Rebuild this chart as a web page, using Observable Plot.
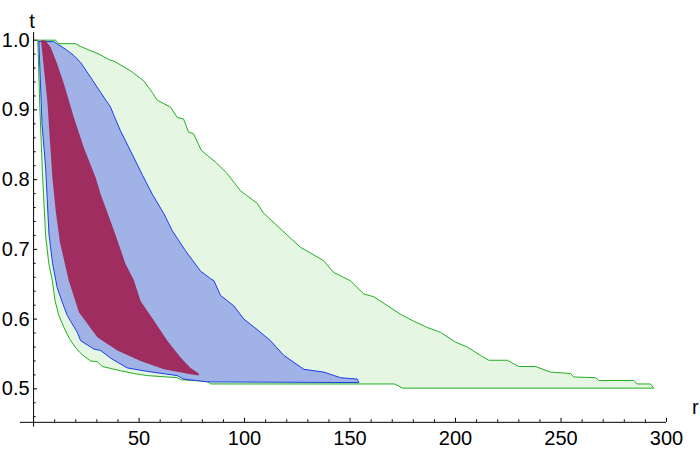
<!DOCTYPE html>
<html><head><meta charset="utf-8">
<style>html,body{margin:0;padding:0;background:#fff;} svg{display:block}</style>
<script src="https://cdn.jsdelivr.net/npm/d3@7"></script>
<script src="https://cdn.jsdelivr.net/npm/@observablehq/plot@0.6"></script>
</head><body><div id="chart"></div>
<script>
// ---- data: region boundaries as [r, t] pairs ----
const greenUpper = [[2.0,1.0],[10.4,1.0],[12.0,0.995],[19.9,0.995],[22.3,0.991],[26.2,0.986],[31.0,0.980],[36.5,0.971],[38.1,0.970],[46.0,0.956],[52.1,0.942],[56.3,0.925],[58.6,0.914],[64.9,0.904],[68.1,0.889],[71.1,0.887],[73.5,0.868],[75.8,0.866],[79.5,0.842],[86.3,0.825],[91.4,0.810],[98.1,0.784],[106.0,0.766],[109.0,0.752],[117.9,0.727],[126.5,0.703],[137.4,0.684],[142.2,0.667],[150.2,0.655],[156.5,0.636],[161.3,0.632],[173.9,0.607],[180.2,0.597],[186.6,0.588],[192.9,0.581],[200.0,0.567],[205.5,0.560],[211.8,0.548],[215.8,0.541],[224.5,0.541],[230.0,0.532],[237.9,0.532],[245.0,0.524],[254.5,0.522],[256.1,0.517],[266.4,0.516],[267.9,0.512],[284.5,0.512],[286.1,0.507],[292.4,0.507],[294.0,0.501]];
const greenLower = [[2.0,1.0],[3.0,0.90],[4.2,0.81],[5.7,0.72],[7.2,0.68],[8.9,0.655],[10.2,0.626],[12.0,0.605],[14.4,0.588],[17.0,0.572],[19.9,0.559],[23.0,0.549],[27.0,0.540],[30.2,0.539],[32.6,0.532],[41.2,0.526],[47.5,0.522],[53.9,0.519],[68.1,0.516],[69.7,0.513],[82.0,0.511],[84.0,0.507],[171.0,0.507],[175.0,0.501],[294.0,0.501]];
const blueUpper = [[2.5,0.998],[9.5,0.998],[15.2,0.987],[19.1,0.978],[22.3,0.968],[27.0,0.947],[31.8,0.925],[36.5,0.904],[38.1,0.892],[41.2,0.870],[45.5,0.844],[51.7,0.806],[56.3,0.779],[61.8,0.751],[65.7,0.727],[72.0,0.698],[79.1,0.669],[83.9,0.658],[85.5,0.655],[88.6,0.634],[94.9,0.619],[99.7,0.600],[106.8,0.583],[112.3,0.569],[118.6,0.548],[128.1,0.528],[137.6,0.524],[145.5,0.516],[153.4,0.514],[154.2,0.509]];
const blueLower = [[2.5,0.998],[4.0,0.88],[5.7,0.818],[7.3,0.722],[9.0,0.68],[11.2,0.645],[13.5,0.625],[16.0,0.605],[20.7,0.581],[22.3,0.569],[28.6,0.557],[31.8,0.555],[36.5,0.544],[44.4,0.530],[53.9,0.525],[68.1,0.519],[71.2,0.514],[82.3,0.510],[154.2,0.509]];
const redUpper = [[3.5,1.0],[5.5,1.0],[8.1,0.990],[11.2,0.966],[14.4,0.937],[19.1,0.889],[23.8,0.846],[29.4,0.803],[31.8,0.779],[38.1,0.727],[43.6,0.679],[47.5,0.656],[50.7,0.626],[57.0,0.598],[63.4,0.569],[69.7,0.545],[74.4,0.530],[78.3,0.522]];
const redLower = [[3.5,1.0],[6.5,0.913],[8.9,0.803],[10.5,0.755],[12.5,0.710],[16.7,0.655],[21.5,0.610],[30.2,0.574],[39.7,0.555],[50.7,0.540],[61.8,0.528],[74.4,0.521],[78.3,0.519]];

// ---- axes ----
const xTicks = [50, 100, 150, 200, 250, 300];
const xTickLabels = ["50", "100", "150", "200", "250", "300"];
const yTicks = [0.5, 0.6, 0.7, 0.8, 0.9, 1.0];
const yTickLabels = ["0.5", "0.6", "0.7", "0.8", "0.9", "1.0"];
const xMinorTicks = d3.range(10, 301, 10).filter(v => v % 50 !== 0);
const yMinorTicks = d3.range(46, 101, 2).map(v => v / 100).filter(v => Math.round(v * 100) % 10 !== 0);
const xAxisName = "r", yAxisName = "t";
const xDomain = [-6.2, 300];
const yDomain = [0.445, 1.011];
const xAxisAt = 0.452; // t where the horizontal axis sits
const yAxisAt = 0;     // r where the vertical axis sits

const colors = {
  greenFill: "#e5f6e3", greenStroke: "#22b022",
  blueFill: "#a0b2e6", blueStroke: "#1e3ceb",
  redFill: "#a02d60"
};
const font = {fontFamily: "'Liberation Sans', Arial, sans-serif", fontSize: 20, fill: "#000"};

const closed = (upper, lower) => upper.concat(lower.slice().reverse()).map(([r, t]) => ({r, t}));

const chart = Plot.plot({
  width: 700, height: 451,
  marginLeft: 20, marginRight: 34, marginTop: 32, marginBottom: 24.3,
  x: {domain: xDomain, axis: null},
  y: {domain: yDomain, axis: null},
  style: {fontFamily: font.fontFamily, fontSize: "20px", background: "#fff", overflow: "visible"},
  marks: [
    Plot.line(closed(greenUpper, greenLower), {x: "r", y: "t", curve: "linear-closed", fill: colors.greenFill, stroke: colors.greenStroke, strokeWidth: 1}),
    Plot.line(closed(blueUpper, blueLower), {x: "r", y: "t", curve: "linear-closed", fill: colors.blueFill, stroke: colors.blueStroke, strokeWidth: 1}),
    Plot.line(closed(redUpper, redLower), {x: "r", y: "t", curve: "linear-closed", fill: colors.redFill, stroke: "none"}),
    // axis lines
    Plot.ruleY([xAxisAt], {x1: xDomain[0], x2: xDomain[1], stroke: "#000", strokeWidth: 1}),
    Plot.ruleX([yAxisAt], {y1: yDomain[0], y2: yDomain[1], stroke: "#000", strokeWidth: 1}),
    // ticks
    Plot.ruleX(xTicks, {x: d => d, y1: xAxisAt, y2: xAxisAt, insetTop: -4, stroke: "#000"}),
    Plot.ruleX(xMinorTicks, {x: d => d, y1: xAxisAt, y2: xAxisAt, insetTop: -2.5, stroke: "#000"}),
    Plot.ruleY(yTicks, {y: d => d, x1: yAxisAt, x2: yAxisAt, insetRight: -4, stroke: "#000"}),
    Plot.ruleY(yMinorTicks, {y: d => d, x1: yAxisAt, x2: yAxisAt, insetRight: -2.5, stroke: "#000"}),
    // tick labels
    Plot.text(xTicks, {x: d => d, y: xAxisAt, text: (d, i) => xTickLabels[i], lineAnchor: "top", dy: 8, ...font}),
    Plot.text(yTicks, {x: yAxisAt, y: d => d, text: (d, i) => yTickLabels[i], textAnchor: "end", dx: -4, ...font}),
    // axis names
    Plot.text([yAxisName], {x: yAxisAt, y: yDomain[1], text: d => d, lineAnchor: "bottom", dy: -5, dx: -1.5, ...font}),
    Plot.text([xAxisName], {x: xDomain[1], y: xAxisAt, text: d => d, textAnchor: "start", lineAnchor: "bottom", dx: 25.5, dy: -8, ...font})
  ]
});
document.getElementById("chart").appendChild(chart);
</script>
</body></html>
